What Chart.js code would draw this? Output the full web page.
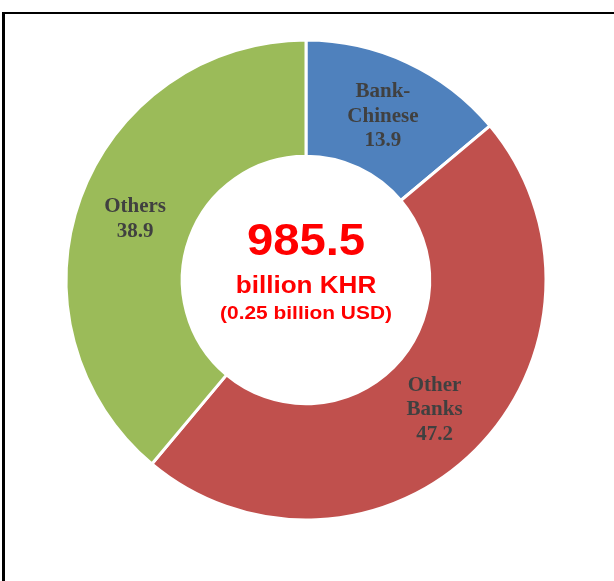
<!DOCTYPE html>
<html lang="en">
<head>
    <meta charset="UTF-8">
    <title>Donut</title>
    <style>
        html, body { margin: 0; padding: 0; background: #fff; }
        .wrap { position: relative; width: 614px; height: 581px; overflow: hidden; }
        .frame { position: absolute; left: 2px; top: 12px; width: 640px; height: 600px;
                 border-top: 2px solid #000; border-left: 3px solid #000; }
        #myChart { position: absolute; left: 0; top: 0; }
    </style>
</head>
<body>
    <div class="wrap">
        <div class="frame"></div>
        <canvas id="myChart" width="614" height="581"></canvas>
    </div>
    <script src="https://cdn.jsdelivr.net/npm/chart.js@4.4.0/dist/chart.umd.min.js"></script>
    <script>
        // data
        const labels = [['Bank-', 'Chinese'], ['Other', 'Banks'], ['Others']];
        const values = [13.9, 47.2, 38.9];
        const colors = ['#4F81BD', '#C0504D', '#9BBB59'];
        const centerLines = ['985.5', 'billion KHR', '(0.25 billion USD)'];

        // text stretched a bit wider, like the original picture
        function wideText(c, txt, x, y, size, sx) {
            c.save();
            c.translate(x, y);
            c.scale(sx, 1);
            c.font = 'bold ' + size + 'px "Liberation Sans", Arial, sans-serif';
            c.fillText(txt, 0, 0);
            c.restore();
        }

        // labels inside each slice + center text
        const sliceLabels = {
            id: 'sliceLabels',
            afterDatasetsDraw(chart) {
                const c = chart.ctx;
                const arcs = chart.getDatasetMeta(0).data;
                c.save();
                c.fillStyle = '#404040';
                c.font = 'bold 21px "Liberation Serif", "Times New Roman", serif';
                c.textAlign = 'center';
                c.textBaseline = 'middle';
                arcs.forEach((arc, i) => {
                    const p = arc.getCenterPoint();
                    const lines = labels[i].concat([values[i].toFixed(1)]);
                    const lh = 24.5;
                    const y0 = p.y - (lines.length - 1) * lh / 2 + 1;
                    lines.forEach((t, j) => c.fillText(t, p.x, y0 + j * lh));
                });

                const a = arcs[0];
                c.fillStyle = '#FF0000';
                wideText(c, centerLines[0], a.x, a.y - 37, 45, 1.05);
                wideText(c, centerLines[1], a.x, a.y + 7, 23.5, 1.11);
                wideText(c, centerLines[2], a.x, a.y + 34, 19, 1.1);
                c.restore();
            }
        };

        new Chart(document.getElementById('myChart'), {
            type: 'doughnut',
            data: {
                labels: labels.map(l => l.join(' ')),
                datasets: [{
                    data: values,
                    backgroundColor: colors,
                    borderColor: '#FFFFFF',
                    borderWidth: 3,
                    hoverOffset: 0
                }]
            },
            options: {
                responsive: false,
                animation: false,
                radius: 240,
                cutout: 123,
                layout: { padding: { left: 66, right: 68, top: 40, bottom: 61 } },
                plugins: {
                    legend: { display: false },
                    tooltip: { enabled: false }
                }
            },
            plugins: [sliceLabels]
        });
    </script>
</body>
</html>
